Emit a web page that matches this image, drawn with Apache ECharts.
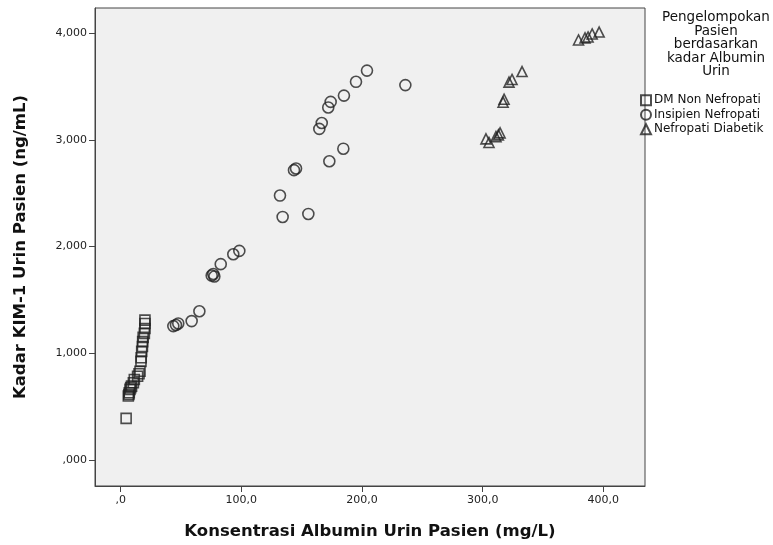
<!DOCTYPE html>
<html>
<head>
<meta charset="utf-8">
<script src="https://cdn.jsdelivr.net/npm/echarts@6/dist/echarts.min.js"></script>
<style>
html,body{margin:0;padding:0;background:#fff;}
#c{width:773px;height:545px;}
</style>
</head>
<body>
<div id="c"></div>
<script>
// Albumin (mg/L) and KIM-1 (ng/mL) per patient group
const dmNonX = [4.5, 6.3, 6.8, 7.1, 7.7, 8.3, 9.0, 10.5, 11.3, 14.0, 15.2, 16.0, 16.8, 17.0, 17.4, 18.0, 18.2, 18.6, 19.6, 20.1, 20.1, 20.1];
const dmNonY = [0.392, 0.602, 0.615, 0.632, 0.664, 0.680, 0.694, 0.725, 0.756, 0.787, 0.810, 0.833, 0.926, 0.960, 1.019, 1.065, 1.111, 1.150, 1.188, 1.234, 1.281, 1.312];
const insipienX = [43.6, 45.8, 47.7, 58.8, 65.2, 75.4, 76.7, 77.6, 82.9, 93.3, 98.3, 132.0, 134.2, 143.6, 145.3, 155.5, 164.6, 166.6, 172.0, 172.9, 174.0, 184.5, 185.0, 195.0, 204.1, 235.9];
const insipienY = [1.256, 1.266, 1.281, 1.303, 1.395, 1.729, 1.744, 1.720, 1.836, 1.929, 1.960, 2.478, 2.278, 2.716, 2.731, 2.306, 3.102, 3.157, 3.303, 2.799, 3.355, 2.917, 3.414, 3.543, 3.648, 3.512];
const nefroX = [302.7, 305.2, 311.0, 313.0, 314.4, 316.9, 317.7, 321.8, 324.3, 332.6, 379.4, 384.8, 387.3, 390.7, 396.5];
const nefroY = [3.009, 2.975, 3.030, 3.046, 3.065, 3.352, 3.380, 3.540, 3.565, 3.639, 3.935, 3.954, 3.963, 3.991, 4.009];
const xTicks = [0, 100, 200, 300, 400];
const yTicks = [0, 1, 2, 3, 4];
const seriesNames = ['DM Non Nefropati', 'Insipien Nefropati', 'Nefropati Diabetik'];
const legendTitle = 'Pengelompokan\nPasien\nberdasarkan\nkadar Albumin\nUrin';
const xName = 'Konsentrasi Albumin Urin Pasien (mg/L)';
const yName = 'Kadar KIM-1 Urin Pasien (ng/mL)';

function zip(a, b) { return a.map((v, i) => [v, b[i]]); }
function fmt(v, d) {
  let s = v.toFixed(d).replace('.', ',');
  if (s.startsWith('0,')) s = s.slice(1);
  return s;
}

const FONT = '"Liberation Sans", Arial, sans-serif';
const WIDE = '"DejaVu Sans", sans-serif';
const markStyle = { color: 'rgba(0,0,0,0)', borderColor: '#222', borderWidth: 1.6 };

const chart = echarts.init(document.getElementById('c'), null, { renderer: 'canvas' });
chart.setOption({
  animation: false,
  backgroundColor: '#ffffff',
  textStyle: { fontFamily: FONT },
  title: {
    text: legendTitle,
    left: 711,
    top: 6,
    textAlign: 'center',
    textStyle: { fontFamily: WIDE, fontSize: 13.5, fontWeight: 'normal', color: '#111', lineHeight: 13.5, align: 'center' }
  },
  legend: {
    orient: 'vertical',
    left: 635,
    top: 89,
    itemWidth: 10,
    itemHeight: 10,
    itemGap: 2,
    data: [
      { name: seriesNames[0], icon: 'rect' },
      { name: seriesNames[1], icon: 'circle' },
      { name: seriesNames[2], icon: 'triangle' }
    ],
    textStyle: { fontFamily: WIDE, fontSize: 12, lineHeight: 12.5, color: '#111', padding: [0, 0, 0, -2] }
  },
  grid: {
    left: 95, right: 128, top: 8, bottom: 55,
    show: true,
    backgroundColor: '#f0f0f0',
    borderColor: '#444',
    borderWidth: 1
  },
  xAxis: {
    type: 'value',
    min: -21.3,
    max: 434.5,
    name: xName,
    nameLocation: 'middle',
    nameGap: 37,
    nameTextStyle: { fontFamily: WIDE, fontSize: 16.5, fontWeight: 'bold', color: '#111' },
    axisLine: { show: true, onZero: false, lineStyle: { color: '#444', width: 1 } },
    axisTick: { show: true, customValues: xTicks, length: 6, lineStyle: { color: '#444' } },
    axisLabel: { customValues: xTicks, formatter: v => fmt(v, 1), fontFamily: WIDE, fontSize: 11, color: '#222', margin: 9 },
    splitLine: { show: false }
  },
  yAxis: {
    type: 'value',
    min: -0.241,
    max: 4.234,
    name: yName,
    nameLocation: 'middle',
    nameGap: 66,
    nameTextStyle: { fontFamily: WIDE, fontSize: 16.5, fontWeight: 'bold', color: '#111' },
    axisLine: { show: true, onZero: false, lineStyle: { color: '#444', width: 1 } },
    axisTick: { show: true, customValues: yTicks, length: 6, lineStyle: { color: '#444' } },
    axisLabel: { customValues: yTicks, formatter: v => fmt(v, 3), fontFamily: WIDE, fontSize: 11, color: '#222', margin: 8 },
    splitLine: { show: false }
  },
  series: [
    { name: seriesNames[0], type: 'scatter', symbol: 'rect', symbolSize: 10, itemStyle: markStyle, data: zip(dmNonX, dmNonY) },
    { name: seriesNames[1], type: 'scatter', symbol: 'circle', symbolSize: 11, itemStyle: markStyle, data: zip(insipienX, insipienY) },
    { name: seriesNames[2], type: 'scatter', symbol: 'triangle', symbolSize: 10, itemStyle: markStyle, data: zip(nefroX, nefroY) }
  ]
});
</script>
</body>
</html>
